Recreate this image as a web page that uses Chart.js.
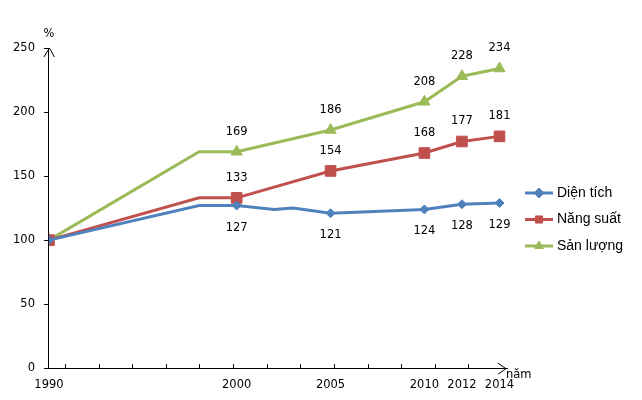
<!DOCTYPE html>
<html>
<head>
<meta charset="utf-8">
<script src="https://cdn.jsdelivr.net/npm/chart.js@4.4.1/dist/chart.umd.min.js"></script>
<style>
  html, body { margin: 0; padding: 0; background: #fff; }
  #wrap { width: 642px; height: 400px; }
</style>
</head>
<body>
<div id="wrap"><canvas id="chart"></canvas></div>
<script>
const years = [1990, 1998, 2000, 2002, 2003, 2005, 2010, 2012, 2014];
const markedYears = [1990, 2000, 2005, 2010, 2012, 2014];
const dienTich = [100, 127, 127, 124, 125, 121, 124, 128, 129];
const nangSuat = [100, 133, 133, null, null, 154, 168, 177, 181];
const sanLuong = [100, 169, 169, null, null, 186, 208, 228, 234];
const seriesNames = ['Diện tích', 'Năng suất', 'Sản lượng'];
const yTicks = [0, 50, 100, 150, 200, 250];

const tickFont = '"DejaVu Sans", sans-serif';
const tickSize = 11.5;

const toPoints = (vals) => years.map((y, i) => ({ x: y, y: vals[i] }));
const markerRadius = (r) => years.map(y => markedYears.includes(y) ? r : 0);

// value labels: above for red/green, below for blue
const labelPlugin = {
    id: 'valueLabels',
    afterDatasetsDraw(chart) {
        const ctx = chart.ctx;
        ctx.save();
        ctx.font = tickSize + 'px ' + tickFont;
        ctx.fillStyle = '#000';
        ctx.textAlign = 'center';
        ctx.textBaseline = 'middle';
        chart.data.datasets.forEach((ds, di) => {
            const meta = chart.getDatasetMeta(di);
            ds.data.forEach((p, i) => {
                if (p.y == null || p.x === 1990 || !markedYears.includes(p.x)) return;
                const el = meta.data[i];
                const dy = di === 0 ? 22 : -20;
                ctx.fillText(String(p.y), el.x, el.y + dy);
            });
        });
        ctx.restore();
    }
};

const decoPlugin = {
    id: 'deco',
    afterDraw(chart) {
        const ctx = chart.ctx;
        const a = chart.chartArea;
        ctx.save();
        ctx.strokeStyle = '#000';
        ctx.lineWidth = 1;
        // y arrow
        ctx.beginPath();
        ctx.moveTo(a.left - 5, a.top + 9);
        ctx.lineTo(a.left + 0.5, a.top);
        ctx.lineTo(a.left + 5.5, a.top + 9);
        ctx.stroke();
        // x arrow
        ctx.beginPath();
        ctx.moveTo(a.right - 9, a.bottom - 5);
        ctx.lineTo(a.right - 1, a.bottom + 0.5);
        ctx.lineTo(a.right - 9, a.bottom + 6);
        ctx.stroke();
        // small x tick marks
        const w = a.right - a.left;
        ctx.beginPath();
        for (let k = 0; k < 13; k++) {
            const x = Math.round(a.left + w * (0.035 + k * 0.0734)) + 0.5;
            ctx.moveTo(x, a.bottom);
            ctx.lineTo(x, a.bottom - 4);
        }
        ctx.stroke();
        ctx.fillStyle = '#000';
        ctx.font = tickSize + 'px ' + tickFont;
        ctx.textAlign = 'center';
        ctx.textBaseline = 'middle';
        ctx.fillText('%', a.left, a.top - 14);
        ctx.textAlign = 'left';
        ctx.fillText('năm', a.right - 1, a.bottom + 7);

        // legend
        ctx.font = '14px "Liberation Sans", Arial, sans-serif';
        ctx.textBaseline = 'middle';
        const lx = a.right + 18;
        chart.data.datasets.forEach((ds, di) => {
            const y = a.top + 145 + di * 26.5;
            ctx.strokeStyle = ds.borderColor;
            ctx.fillStyle = ds.borderColor;
            ctx.lineWidth = 3;
            ctx.beginPath();
            ctx.moveTo(lx, y);
            ctx.lineTo(lx + 28, y);
            ctx.stroke();
            ctx.lineWidth = 1;
            Chart.helpers.drawPoint(ctx, {
                pointStyle: ds.pointStyle, radius: 5, borderWidth: 1
            }, lx + 14, y);
            ctx.fillStyle = '#000';
            ctx.fillText(ds.label, lx + 32, y);
        });
        ctx.restore();
    }
};

const makeSet = (label, vals, color, style, r) => ({
    label: label,
    data: toPoints(vals),
    borderColor: color,
    backgroundColor: color,
    pointBackgroundColor: color,
    pointBorderColor: color,
    borderWidth: 3,
    pointBorderWidth: 1,
    pointStyle: style,
    pointRadius: markerRadius(r),
    pointHoverRadius: 0,
    spanGaps: true,
    tension: 0
});

new Chart(document.getElementById('chart'), {
    type: 'line',
    data: {
        datasets: [
            makeSet(seriesNames[0], dienTich, '#4F81BD', 'rectRot', 4.5),
            makeSet(seriesNames[1], nangSuat, '#C0504D', 'rect', 7.5),
            makeSet(seriesNames[2], sanLuong, '#9BBB59', 'triangle', 6.5)
        ]
    },
    options: {
        responsive: true,
        maintainAspectRatio: false,
        animation: false,
        layout: { padding: { top: 48, right: 135, bottom: -2, left: 4 } },
        scales: {
            x: {
                type: 'linear',
                min: 1990,
                max: 2014.4,
                afterBuildTicks: (scale) => {
                    scale.ticks = markedYears.map(v => ({ value: v }));
                },
                grid: { display: false, drawTicks: false },
                border: { color: '#000', width: 1 },
                ticks: {
                    color: '#000',
                    font: { family: tickFont, size: tickSize },
                    padding: 10,
                    maxRotation: 0,
                    autoSkip: false,
                    callback: (v) => String(v)
                }
            },
            y: {
                min: 0,
                max: 250,
                afterBuildTicks: (scale) => {
                    scale.ticks = yTicks.map(v => ({ value: v }));
                },
                grid: { drawOnChartArea: false, drawTicks: true, tickLength: 5, color: '#000' },
                border: { color: '#000', width: 1 },
                ticks: {
                    color: '#000',
                    font: { family: tickFont, size: tickSize },
                    padding: 9
                }
            }
        },
        plugins: {
            legend: { display: false },
            tooltip: { enabled: false }
        }
    },
    plugins: [labelPlugin, decoPlugin]
});
</script>
</body>
</html>
